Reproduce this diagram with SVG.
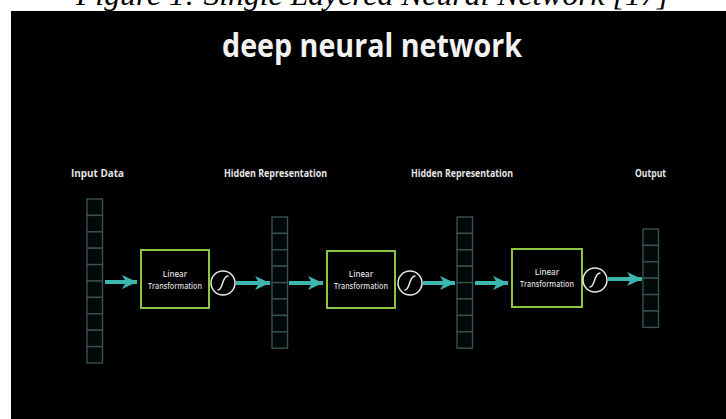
<svg xmlns="http://www.w3.org/2000/svg" width="726" height="419" viewBox="0 0 726 419">
  <defs>
    <style>
      .caption { font-family: "Liberation Serif", serif; font-style: italic; font-size: 29px; fill: #000; }
      .title { font-family: "Open Sans", "DejaVu Sans", sans-serif; font-weight: 700; font-size: 32px; fill: #f2f2f2; }
      .label { font-family: "Open Sans", "DejaVu Sans", sans-serif; font-weight: 700; font-size: 11px; fill: #e6e6e6; }
      .boxtext { font-family: "Open Sans", "DejaVu Sans", sans-serif; font-weight: 600; font-size: 8px; fill: #dcdcdc; text-anchor: middle; }
      .box { fill: #000; stroke: #8cc63e; stroke-width: 2; }
      .cell { fill: #030808; stroke: #37524f; stroke-width: 1.4; }
      .sig { fill: #000; stroke: #e8e8e8; stroke-width: 1.5; }
      .sigcurve { fill: none; stroke: #e8e8e8; stroke-width: 1.5; stroke-linecap: round; }
      .arrow { stroke: #3cb6ae; stroke-width: 4; fill: none; }
    </style>
    <marker id="head" markerUnits="userSpaceOnUse" markerWidth="16" markerHeight="16" viewBox="0 0 16 16" refX="15" refY="8" orient="auto">
      <path d="M0,1 L15,8 L0,15 L4,8 Z" fill="#3cb6ae"/>
    </marker>
    <!-- one vector cell, reused to build the columns -->
    <rect id="cell" class="cell" width="15.5" height="16.4"/>
  </defs>

  <!-- page and figure panel -->
  <rect x="0" y="0" width="726" height="419" fill="#fff"/>
  <text class="caption" x="76" y="5" textLength="593" lengthAdjust="spacingAndGlyphs">Figure 1: Single Layered Neural Network [17]</text>
  <rect x="11" y="11" width="715" height="408" fill="#000"/>

  <text class="title" x="222" y="57" textLength="300" lengthAdjust="spacingAndGlyphs">deep neural network</text>

  <!-- column labels -->
  <text class="label" x="71" y="177" textLength="53" lengthAdjust="spacingAndGlyphs">Input Data</text>
  <text class="label" x="224" y="177" textLength="103" lengthAdjust="spacingAndGlyphs">Hidden Representation</text>
  <text class="label" x="411" y="177" textLength="102" lengthAdjust="spacingAndGlyphs">Hidden Representation</text>
  <text class="label" x="635" y="177" textLength="31" lengthAdjust="spacingAndGlyphs">Output</text>

  <!-- input vector: 10 cells -->
  <g id="input-data">
    <use href="#cell" x="87" y="199"/>
    <use href="#cell" x="87" y="215.4"/>
    <use href="#cell" x="87" y="231.8"/>
    <use href="#cell" x="87" y="248.2"/>
    <use href="#cell" x="87" y="264.6"/>
    <use href="#cell" x="87" y="281"/>
    <use href="#cell" x="87" y="297.4"/>
    <use href="#cell" x="87" y="313.8"/>
    <use href="#cell" x="87" y="330.2"/>
    <use href="#cell" x="87" y="346.6"/>
  </g>

  <!-- first hidden representation: 8 cells -->
  <g id="hidden-1">
    <use href="#cell" x="272" y="217"/>
    <use href="#cell" x="272" y="233.4"/>
    <use href="#cell" x="272" y="249.8"/>
    <use href="#cell" x="272" y="266.2"/>
    <use href="#cell" x="272" y="282.6"/>
    <use href="#cell" x="272" y="299"/>
    <use href="#cell" x="272" y="315.4"/>
    <use href="#cell" x="272" y="331.8"/>
  </g>

  <!-- second hidden representation: 8 cells -->
  <g id="hidden-2">
    <use href="#cell" x="457" y="217"/>
    <use href="#cell" x="457" y="233.4"/>
    <use href="#cell" x="457" y="249.8"/>
    <use href="#cell" x="457" y="266.2"/>
    <use href="#cell" x="457" y="282.6"/>
    <use href="#cell" x="457" y="299"/>
    <use href="#cell" x="457" y="315.4"/>
    <use href="#cell" x="457" y="331.8"/>
  </g>

  <!-- output vector: 6 cells -->
  <g id="output">
    <use href="#cell" x="643" y="229"/>
    <use href="#cell" x="643" y="245.4"/>
    <use href="#cell" x="643" y="261.8"/>
    <use href="#cell" x="643" y="278.2"/>
    <use href="#cell" x="643" y="294.6"/>
    <use href="#cell" x="643" y="311"/>
  </g>

  <!-- linear transformation blocks -->
  <g id="linear-1">
    <rect class="box" x="141" y="250" width="68" height="58"/>
    <text class="boxtext" x="175" y="277">Linear</text>
    <text class="boxtext" x="175" y="289" textLength="54" lengthAdjust="spacingAndGlyphs">Transformation</text>
  </g>
  <g id="linear-2">
    <rect class="box" x="327" y="251" width="68" height="57"/>
    <text class="boxtext" x="361" y="277">Linear</text>
    <text class="boxtext" x="361" y="289" textLength="54" lengthAdjust="spacingAndGlyphs">Transformation</text>
  </g>
  <g id="linear-3">
    <rect class="box" x="512" y="249" width="70" height="58"/>
    <text class="boxtext" x="547" y="275">Linear</text>
    <text class="boxtext" x="547" y="287" textLength="54" lengthAdjust="spacingAndGlyphs">Transformation</text>
  </g>

  <!-- sigmoid activations -->
  <g id="sigmoid-1">
    <circle class="sig" cx="223" cy="283" r="12"/>
    <path class="sigcurve" d="M218,290 C223,290 222,276 228,276"/>
  </g>
  <g id="sigmoid-2">
    <circle class="sig" cx="410" cy="283" r="12"/>
    <path class="sigcurve" d="M405,290 C410,290 409,276 415,276"/>
  </g>
  <g id="sigmoid-3">
    <circle class="sig" cx="595" cy="280" r="12"/>
    <path class="sigcurve" d="M590,287 C595,287 594,273 600,273"/>
  </g>

  <!-- connectors -->
  <g id="connectors">
    <line class="arrow" x1="105" y1="282" x2="137" y2="282" marker-end="url(#head)"/>
    <line class="arrow" x1="236" y1="283" x2="270" y2="283" marker-end="url(#head)"/>
    <line class="arrow" x1="289" y1="283" x2="323" y2="283" marker-end="url(#head)"/>
    <line class="arrow" x1="423" y1="283" x2="455" y2="283" marker-end="url(#head)"/>
    <line class="arrow" x1="475" y1="283" x2="508" y2="283" marker-end="url(#head)"/>
    <line class="arrow" x1="608" y1="279" x2="642" y2="279" marker-end="url(#head)"/>
  </g>
</svg>
